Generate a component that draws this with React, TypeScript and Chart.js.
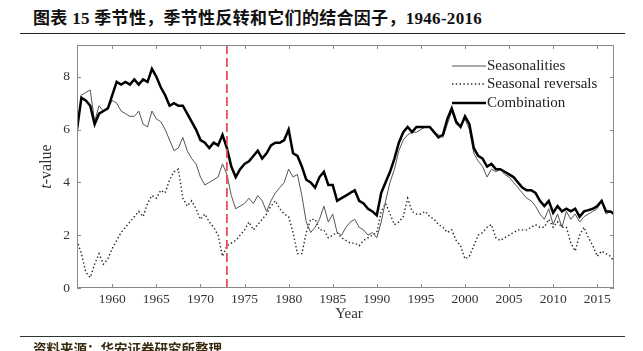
import React, { useEffect, useRef } from "react";
import { Chart, registerables } from "chart.js";

Chart.register(...registerables);

const years = [
  1956, 1956.5, 1957, 1957.5, 1958, 1958.5, 1959, 1959.5, 1960, 1960.5,
  1961, 1961.5, 1962, 1962.5, 1963, 1963.5, 1964, 1964.5, 1965, 1965.5,
  1966, 1966.5, 1967, 1967.5, 1968, 1968.5, 1969, 1969.5, 1970, 1970.5,
  1971, 1971.5, 1972, 1972.5, 1973, 1973.5, 1974, 1974.5, 1975, 1975.5,
  1976, 1976.5, 1977, 1977.5, 1978, 1978.5, 1979, 1979.5, 1980, 1980.5,
  1981, 1981.5, 1982, 1982.5, 1983, 1983.5, 1984, 1984.5, 1985, 1985.5,
  1986, 1986.5, 1987, 1987.5, 1988, 1988.5, 1989, 1989.5, 1990, 1990.5,
  1991, 1991.5, 1992, 1992.5, 1993, 1993.5, 1994, 1994.5, 1995, 1995.5,
  1996, 1996.5, 1997, 1997.5, 1998, 1998.5, 1999, 1999.5, 2000, 2000.5,
  2001, 2001.5, 2002, 2002.5, 2003, 2003.5, 2004, 2004.5, 2005, 2005.5,
  2006, 2006.5, 2007, 2007.5, 2008, 2008.5, 2009, 2009.5, 2010, 2010.5,
  2011, 2011.5, 2012, 2012.5, 2013, 2013.5, 2014, 2014.5, 2015, 2015.5,
  2016, 2016.5, 2016.9,
];

const combination = [
  6.0, 7.2, 7.1, 6.9, 6.2, 6.6, 6.7, 6.8, 7.3, 7.8,
  7.7, 7.8, 7.7, 7.9, 7.7, 7.9, 7.8, 8.3, 8.0, 7.6,
  7.3, 6.9, 7.0, 6.9, 6.9, 6.6, 6.3, 6.0, 5.6, 5.5,
  5.3, 5.5, 5.4, 5.8, 5.3, 4.6, 4.2, 4.5, 4.7, 4.8,
  5.0, 5.2, 4.9, 5.1, 5.4, 5.5, 5.5, 5.6, 6.0, 5.1,
  5.0, 4.6, 4.1, 4.0, 3.8, 4.2, 4.4, 3.9, 3.9, 3.3,
  3.4, 3.5, 3.6, 3.7, 3.3, 3.2, 3.0, 2.9, 2.75, 3.6,
  4.0, 4.4, 4.9, 5.5, 5.9, 6.1, 5.9, 6.1, 6.1, 6.1,
  6.1, 5.9, 5.7, 5.8, 6.4, 6.8, 6.3, 6.1, 6.5, 6.2,
  5.3, 5.0, 4.9, 4.6, 4.7, 4.5, 4.5, 4.4, 4.3, 4.2,
  4.0, 3.8, 3.7, 3.7, 3.6, 3.3, 3.1, 3.3, 2.85, 3.1,
  2.9, 3.0, 2.9, 3.0, 2.7, 2.9, 2.95, 3.0, 3.1, 3.3,
  2.9, 2.9, 2.8,
];

const seasonalities = [
  5.9, 7.3, 7.4, 7.5, 6.3, 6.9, 6.7, 6.8, 7.1, 7.0,
  6.7, 6.6, 6.5, 6.5, 6.7, 6.2, 6.1, 6.7, 6.4, 6.3,
  6.0, 5.6, 5.2, 5.3, 5.7, 5.2, 4.9, 4.7, 4.2, 3.9,
  4.0, 4.1, 4.2, 4.7, 4.3, 3.5, 3.0, 3.1, 3.2, 3.4,
  3.2, 3.5, 3.3, 2.9, 3.3, 3.6, 3.8, 4.0, 4.5, 4.2,
  4.3, 3.5, 2.5, 2.1, 2.3, 2.6, 3.1, 2.5, 2.8, 2.1,
  2.0, 2.3, 2.5, 2.6, 2.3, 2.2, 2.0, 2.1, 1.9, 2.5,
  3.3, 4.0, 4.5, 5.2, 5.6, 5.8, 5.9, 5.9, 6.0, 6.1,
  6.1, 5.9, 5.8, 5.7, 6.2, 6.7, 6.2, 6.1, 6.4, 6.0,
  5.1, 4.8, 4.6, 4.2, 4.5, 4.4, 4.5, 4.3, 4.2, 4.0,
  3.8, 3.6, 3.4, 3.3, 3.1, 2.8, 2.6, 3.0, 2.4, 2.8,
  2.3, 2.9, 2.6, 2.8, 2.5, 2.7, 2.8, 2.9, 3.0, 3.3,
  2.8, 2.9, 2.8,
];

const reversals = [
  1.8, 1.3, 0.6, 0.4, 0.9, 1.3, 0.9, 1.1, 1.5, 1.8,
  2.1, 2.3, 2.5, 2.7, 2.9, 2.7, 3.2, 3.5, 3.4, 3.7,
  3.6, 4.1, 4.4, 4.5, 3.4, 3.1, 3.3, 3.0, 2.6, 2.8,
  2.5, 2.3, 2.0, 1.2, 1.6, 1.7, 1.8, 2.0, 2.2, 2.5,
  2.2, 2.4, 2.6, 2.8, 3.1, 3.3, 3.0, 2.8, 2.7, 2.1,
  1.3, 1.3, 2.1, 2.6, 2.6, 2.2, 2.2, 1.9, 2.0, 2.1,
  1.9, 1.8, 1.7, 1.7, 1.6, 1.8, 1.9, 2.0, 2.1, 2.9,
  3.2, 2.8, 2.4, 2.5, 2.7, 3.4, 2.9, 2.8, 2.8, 2.9,
  2.7, 2.6, 2.4, 2.3, 2.1, 2.2, 1.8, 1.6, 1.1, 1.2,
  1.6, 2.0, 2.1, 2.3, 2.4, 1.9, 1.8, 1.9, 2.0, 2.1,
  2.2, 2.2, 2.2, 2.3, 2.4, 2.3, 2.3, 2.6, 2.3, 2.5,
  2.3, 2.3, 1.7, 1.4, 2.0, 2.3, 1.9, 1.6, 1.2, 1.4,
  1.3, 1.2, 1.0,
];

const seriesNames = ["Seasonalities", "Seasonal reversals", "Combination"];
const markerYear = 1973;
const xMin = 1956;
const xMax = 2016.9;
const yMin = 0;
const yMax = 9.2;

const SERIF = "'Liberation Serif', 'DejaVu Serif', serif";

const toPoints = (vals: number[]) => vals.map((v, i) => ({ x: years[i], y: v }));

const framePlugin = {
  id: "frame",
  afterDatasetsDraw(chart: any) {
    const { ctx, chartArea: a, scales } = chart;
    const xs = scales.x;
    const ys = scales.y;
    ctx.save();
    // red dashed marker
    const mx = xs.getPixelForValue(markerYear);
    ctx.strokeStyle = "#ef4b57";
    ctx.lineWidth = 1.8;
    ctx.setLineDash([9, 4]);
    ctx.beginPath();
    ctx.moveTo(mx, a.top);
    ctx.lineTo(mx, a.bottom);
    ctx.stroke();
    ctx.setLineDash([]);
    // frame
    ctx.strokeStyle = "#8a8a8a";
    ctx.lineWidth = 1;
    ctx.strokeRect(a.left + 0.5, a.top + 0.5, a.right - a.left - 1, a.bottom - a.top - 1);
    // inward ticks
    const tl = 4;
    ctx.beginPath();
    xs.ticks.forEach((t: any) => {
      const px = Math.round(xs.getPixelForValue(t.value)) + 0.5;
      ctx.moveTo(px, a.bottom);
      ctx.lineTo(px, a.bottom - tl);
      ctx.moveTo(px, a.top);
      ctx.lineTo(px, a.top + tl);
    });
    ys.ticks.forEach((t: any) => {
      const py = Math.round(ys.getPixelForValue(t.value)) + 0.5;
      ctx.moveTo(a.left, py);
      ctx.lineTo(a.left + tl, py);
      ctx.moveTo(a.right, py);
      ctx.lineTo(a.right - tl, py);
    });
    ctx.stroke();

    // legend
    ctx.fillStyle = "#222";
    ctx.font = `15px ${SERIF}`;
    ctx.textBaseline = "middle";
    ctx.textAlign = "left";
    const lx0 = 452;
    const lx1 = 486;
    const rows = [66, 84, 103];
    const styles = [
      { color: "#555", w: 1, dash: [] as number[] },
      { color: "#222", w: 1.4, dash: [1.4, 2.4] },
      { color: "#000", w: 2.5, dash: [] as number[] },
    ];
    rows.forEach((ry, i) => {
      const s = styles[i];
      ctx.strokeStyle = s.color;
      ctx.lineWidth = s.w;
      ctx.setLineDash(s.dash);
      ctx.beginPath();
      ctx.moveTo(lx0, ry);
      ctx.lineTo(lx1, ry);
      ctx.stroke();
      ctx.setLineDash([]);
      ctx.fillText(seriesNames[i], lx1 + 1, ry);
    });

    // axis titles
    ctx.fillStyle = "#333";
    ctx.font = `15px ${SERIF}`;
    ctx.textAlign = "center";
    ctx.textBaseline = "middle";
    ctx.fillText("Year", 349, 314);

    ctx.translate(47, (a.top + a.bottom) / 2);
    ctx.rotate(-Math.PI / 2);
    ctx.font = `italic 16px ${SERIF}`;
    const tW = ctx.measureText("t").width;
    ctx.font = `16px ${SERIF}`;
    const restW = ctx.measureText("-value").width;
    const total = tW + restW;
    ctx.textAlign = "left";
    ctx.font = `italic 16px ${SERIF}`;
    ctx.fillText("t", -total / 2, 0);
    ctx.font = `16px ${SERIF}`;
    ctx.fillText("-value", -total / 2 + tW, 0);
    ctx.restore();
  },
};

function ChartView() {
  const ref = useRef<HTMLCanvasElement | null>(null);
  useEffect(() => {
    if (!ref.current) return;
    const chart = new Chart(ref.current, {
      type: "line",
      data: {
        datasets: [
          {
            label: seriesNames[2],
            data: toPoints(combination),
            borderColor: "#000",
            borderWidth: 2.5,
            pointRadius: 0,
            tension: 0,
            order: 0,
          },
          {
            label: seriesNames[0],
            data: toPoints(seasonalities),
            borderColor: "#555",
            borderWidth: 1,
            pointRadius: 0,
            tension: 0,
            order: 1,
          },
          {
            label: seriesNames[1],
            data: toPoints(reversals),
            borderColor: "#222",
            borderWidth: 1.4,
            borderDash: [1.4, 2.4],
            pointRadius: 0,
            tension: 0,
            order: 2,
          },
        ],
      },
      options: {
        responsive: false,
        animation: false,
        events: [],
        layout: { padding: { left: 20, top: 45, right: 29, bottom: 0 } },
        plugins: { legend: { display: false }, tooltip: { enabled: false }, title: { display: false } },
        scales: {
          x: {
            type: "linear",
            min: xMin,
            max: xMax,
            grid: { display: false, drawTicks: false },
            border: { display: false },
            ticks: {
              stepSize: 5,
              includeBounds: false,
              padding: 3,
              color: "#333",
              font: { family: SERIF, size: 13.5 },
              maxRotation: 0,
              callback: (v: any) => String(v),
            },
            afterFit: (s: any) => {
              s.height = 63;
            },
          },
          y: {
            type: "linear",
            min: yMin,
            max: yMax,
            grid: { display: false, drawTicks: false },
            border: { display: false },
            ticks: {
              stepSize: 2,
              includeBounds: false,
              padding: 7,
              color: "#333",
              font: { family: SERIF, size: 13.5 },
              callback: (v: any) => String(v),
            },
            afterFit: (s: any) => {
              s.width = 57;
            },
          },
        },
      },
      plugins: [framePlugin],
    });
    return () => chart.destroy();
  }, []);
  return (
    <canvas
      ref={ref}
      width={643}
      height={351}
      style={{ position: "absolute", left: 0, top: 0, width: 643, height: 351 }}
    />
  );
}

export default function App() {
  return (
    <div
      style={{
        position: "absolute",
        left: 0,
        top: 0,
        width: 643,
        height: 351,
        overflow: "hidden",
        background: "#fff",
      }}
    >
      <div
        style={{
          position: "absolute",
          left: 33,
          top: 9,
          whiteSpace: "nowrap",
          fontFamily: "'Liberation Serif', 'Noto Sans CJK SC', serif",
          fontWeight: "bold",
          fontSize: 17,
          letterSpacing: 0.3,
          color: "#111",
          lineHeight: "20px",
        }}
      >
        图表 15 季节性，季节性反转和它们的结合因子，1946-2016
      </div>
      <div style={{ position: "absolute", left: 20, top: 33, width: 605, height: 1, background: "#222" }} />
      <ChartView />
      <div style={{ position: "absolute", left: 20, top: 336, width: 605, height: 1, background: "#333" }} />
      <div
        style={{
          position: "absolute",
          left: 33,
          top: 339,
          whiteSpace: "nowrap",
          fontFamily: "'Noto Sans CJK SC', sans-serif",
          fontWeight: "bold",
          fontSize: 13.5,
          color: "#3a2a10",
          lineHeight: "18px",
        }}
      >
        资料来源：华安证券研究所整理
      </div>
    </div>
  );
}
